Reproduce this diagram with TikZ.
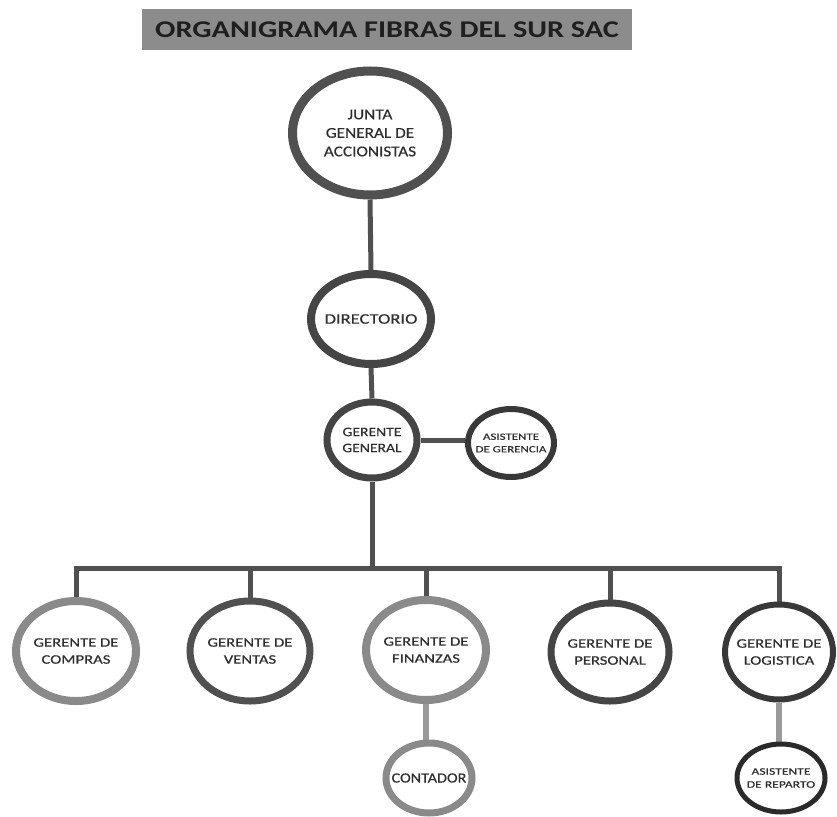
\documentclass[tikz,border=0pt]{standalone}
\usepackage{fontspec}
\setmainfont{Carlito}
\newfontfamily\fA[FakeStretch=1.15,FakeBold=0.35]{Carlito}
\newfontfamily\fB[FakeStretch=1.2,FakeBold=0.35]{Carlito}
\newfontfamily\fC[FakeStretch=1.28,FakeBold=0.35]{Carlito}
\newfontfamily\fD[FakeStretch=1.36,FakeBold=0.3]{Carlito}
\newfontfamily\fT[FakeStretch=1.26]{Carlito}
\usetikzlibrary{shapes.geometric,backgrounds}
\definecolor{ringA}{HTML}{505050}
\definecolor{ringB}{HTML}{454545}
\definecolor{ringC}{HTML}{383838}
\definecolor{ringL}{HTML}{8A8A8A}
\definecolor{ringK}{HTML}{2A2A2A}
\definecolor{txt}{HTML}{2E2E2E}
\definecolor{titlebg}{HTML}{8C8C8C}
\definecolor{wire}{HTML}{505050}
\definecolor{wireL}{HTML}{9A9A9A}
\tikzset{
  orgnode/.style={ellipse, fill=white, inner sep=0pt},
  lbl/.style={align=center, text=txt, inner sep=0pt, font=\fC\fontsize{13}{17}\selectfont},
  conn/.style={draw=wire, line width=5pt},
  connL/.style={draw=wireL, line width=5.5pt}
}
\begin{document}
\begin{tikzpicture}[x=1pt,y=-1pt]
\useasboundingbox (0,0) rectangle (837,816);
\node[fill=titlebg, minimum width=490pt, minimum height=41pt, inner sep=0pt,
  font=\fT\fontsize{24}{26}\selectfont\bfseries, text=black!88] (title) at (387,29.5) {ORGANIGRAMA FIBRAS DEL SUR SAC};

\node[orgnode, draw=ringA, line width=9pt, minimum width=155pt, minimum height=124pt,
  label={[lbl, font=\fA\fontsize{15}{18.5}\selectfont]center:{JUNTA\\GENERAL DE\\ACCIONISTAS}}] (junta) at (370,133) {};
\node[orgnode, draw=ringB, line width=8pt, minimum width=120pt, minimum height=90pt,
  label={[lbl, font=\fC\fontsize{14.5}{17}\selectfont]center:{DIRECTORIO}}] (dir) at (371,319) {};
\node[orgnode, draw=ringB, line width=7pt, minimum width=90pt, minimum height=76pt,
  label={[lbl, font=\fB\fontsize{13}{16}\selectfont]center:{GERENTE\\GENERAL}}] (gg) at (372,440) {};
\node[orgnode, draw=ringC, line width=6pt, minimum width=86pt, minimum height=68pt,
  label={[lbl, font=\fD\fontsize{9.5}{12.5}\selectfont]center:{ASISTENTE\\DE GERENCIA}}] (ag) at (511,443) {};

\node[orgnode, draw=ringL, line width=8pt, minimum width=120pt, minimum height=100pt,
  label={[lbl]center:{GERENTE DE\\COMPRAS}}] (compras) at (76,651) {};
\node[orgnode, draw=ringA, line width=7pt, minimum width=120pt, minimum height=100pt,
  label={[lbl]center:{GERENTE DE\\VENTAS}}] (ventas) at (250,651) {};
\node[orgnode, draw=ringL, line width=8pt, minimum width=120pt, minimum height=100pt,
  label={[lbl]center:{GERENTE DE\\FINANZAS}}] (finanzas) at (426,650) {};
\node[orgnode, draw=ringB, line width=7pt, minimum width=118pt, minimum height=98pt,
  label={[lbl]center:{GERENTE DE\\PERSONAL}}] (personal) at (610,652) {};
\node[orgnode, draw=ringC, line width=6pt, minimum width=108pt, minimum height=95pt,
  label={[lbl]center:{GERENTE DE\\LOGISTICA}}] (logistica) at (779,652) {};

\node[orgnode, draw=ringL, line width=7pt, minimum width=86pt, minimum height=70pt,
  label={[lbl, font=\fA\fontsize{14}{17}\selectfont]center:{CONTADOR}}] (contador) at (429,778) {};
\node[orgnode, draw=ringK, line width=5pt, minimum width=88pt, minimum height=68pt,
  label={[lbl, font=\fD\fontsize{10}{13}\selectfont]center:{ASISTENTE\\DE REPARTO}}] (reparto) at (781,778) {};

\coordinate (busy) at (0,568);

\begin{scope}[on background layer]
  \draw[conn] (junta.south) -- (dir.north);
  \draw[conn] (dir.south) -- (gg.north);
  \draw[conn] (gg.east) -- (gg.east -| ag.west);
  \draw[conn] (gg.south) -- (gg.south |- busy);
  \draw[conn] (compras.north) -- (compras.north |- busy) -- (logistica.north |- busy) -- (logistica.north);
  \draw[conn] (ventas.north) -- (ventas.north |- busy);
  \draw[conn] (finanzas.north) -- (finanzas.north |- busy);
  \draw[conn] (personal.north) -- (personal.north |- busy);
  \draw[connL] (finanzas.south) -- (finanzas.south |- contador.north);
  \draw[connL] (logistica.south) -- (logistica.south |- reparto.north);
\end{scope}
\end{tikzpicture}
\end{document}
